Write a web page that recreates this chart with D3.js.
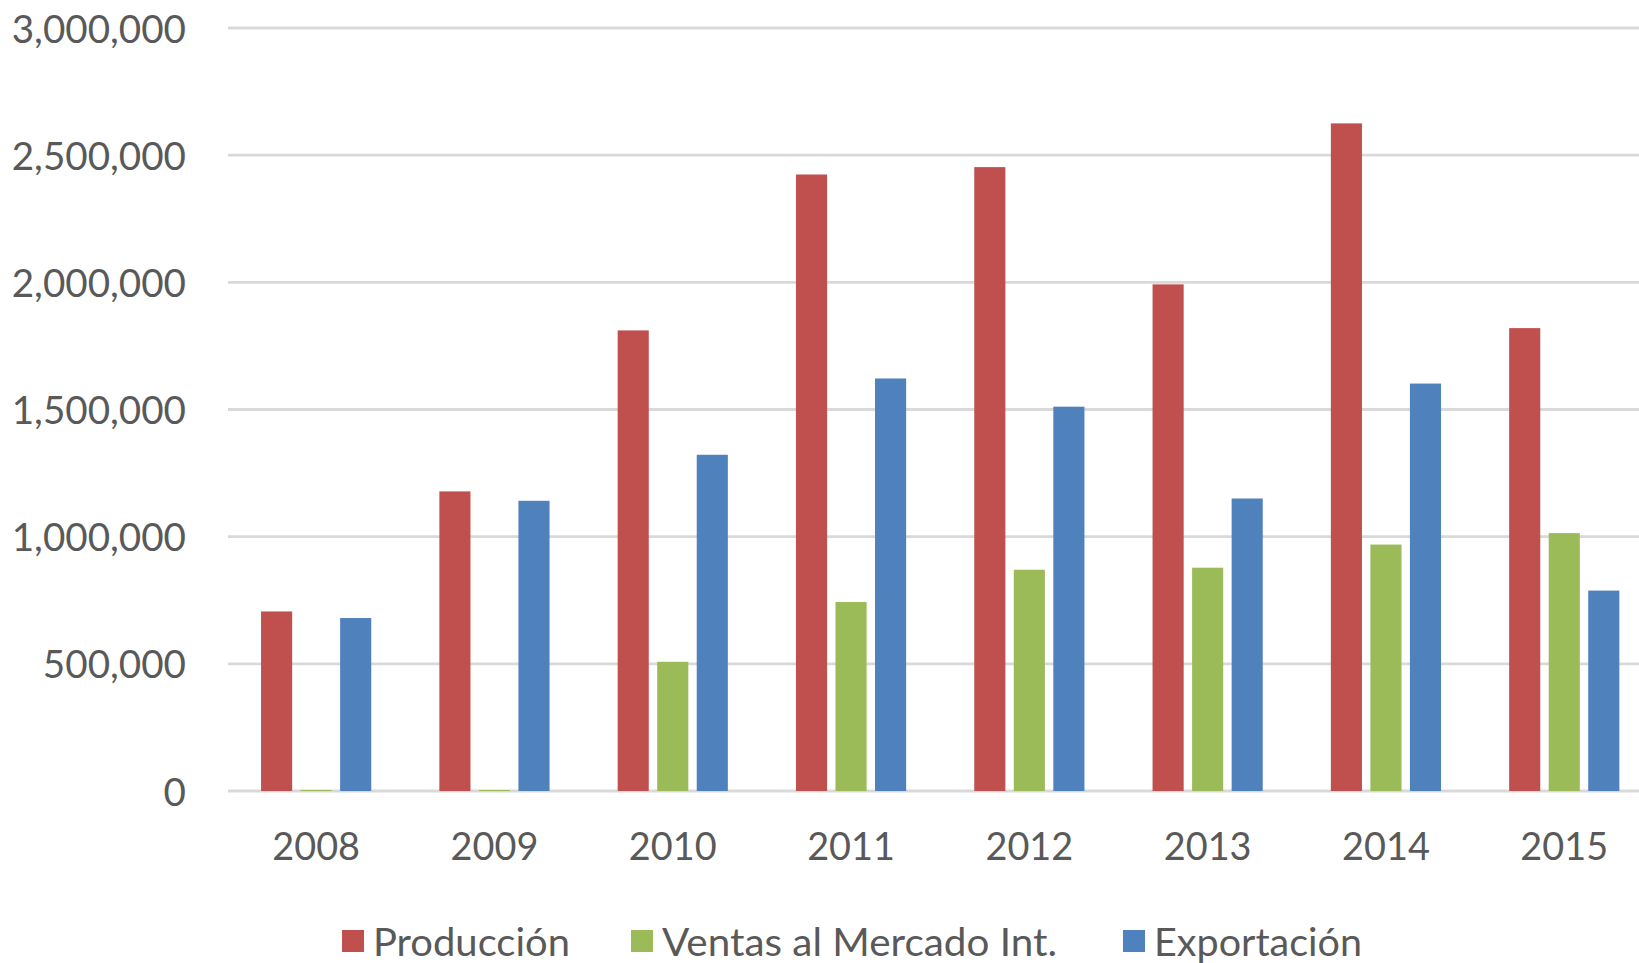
<!DOCTYPE html>
<html>
<head>
<meta charset="utf-8">
<script src="https://cdn.jsdelivr.net/npm/d3@7"></script>
<style>
  html, body { margin: 0; padding: 0; background: #fff; }
  svg { display: block; }
  text { font-family: Lato, "Open Sans", sans-serif; fill: #595959; }
</style>
</head>
<body>
<svg id="chart" width="1639" height="963"></svg>
<script>
const years = ["2008", "2009", "2010", "2011", "2012", "2013", "2014", "2015"];
const seriesNames = ["Producción", "Ventas al Mercado Int.", "Exportación"];
const seriesColors = ["#C0504D", "#9BBB59", "#4F81BD"];
const produccion = [706000, 1178000, 1811000, 2424000, 2453000, 1992000, 2625000, 1820000];
const ventas = [4000, 4000, 508000, 743000, 870000, 878000, 969000, 1014000];
const exportacion = [680000, 1141000, 1322000, 1622000, 1511000, 1150000, 1602000, 788000];
const yTicks = [0, 500000, 1000000, 1500000, 2000000, 2500000, 3000000];

const seriesValues = [produccion, ventas, exportacion];

const svg = d3.select("#chart");
const W = 1639;
const left = 227, step = 178.3;
const x0 = d3.scaleBand().domain(years)
  .range([left, left + step * years.length])
  .paddingInner(0.382).paddingOuter(0.191);
const x1 = d3.scaleBand().domain(seriesNames)
  .range([0, x0.bandwidth()])
  .paddingInner(0.213).paddingOuter(0);
const y = d3.scaleLinear().domain([0, 3000000]).range([791, 28]);

// gridlines
svg.append("g").selectAll("line").data(yTicks).join("line")
  .attr("x1", 228).attr("x2", W)
  .attr("y1", d => y(d)).attr("y2", d => y(d))
  .attr("stroke", "#D9D9D9").attr("stroke-width", 2.8);

// y axis labels
const yAxis = svg.append("g").attr("transform", "translate(228,0)")
  .call(d3.axisLeft(y).tickValues(yTicks).tickFormat(d3.format(",")).tickSize(0).tickPadding(42));
yAxis.select(".domain").remove();
yAxis.selectAll("text")
  .attr("font-size", 39).attr("font-family", "Lato, 'Open Sans', sans-serif")
  .attr("fill", "#595959").attr("dy", "0.36em");

// bars
const groups = svg.append("g").selectAll("g").data(years).join("g")
  .attr("transform", d => `translate(${x0(d)},0)`);
groups.selectAll("rect")
  .data((yr, i) => seriesNames.map((s, k) => ({ s, k, v: seriesValues[k][i] })))
  .join("rect")
  .attr("x", d => x1(d.s))
  .attr("width", x1.bandwidth())
  .attr("y", d => y(d.v))
  .attr("height", d => y(0) - y(d.v))
  .attr("fill", d => seriesColors[d.k]);

// x axis labels
const xAxis = svg.append("g").attr("transform", "translate(0,791)")
  .call(d3.axisBottom(x0).tickSize(0).tickPadding(0));
xAxis.select(".domain").remove();
xAxis.selectAll("text")
  .attr("font-size", 39).attr("font-family", "Lato, 'Open Sans', sans-serif")
  .attr("fill", "#595959").attr("dy", null).attr("y", 69);

// legend
const legendX = [342, 631, 1123];
const legendW = [197, 395, 208];
const lg = svg.append("g").selectAll("g").data(seriesNames).join("g")
  .attr("transform", (d, i) => `translate(${legendX[i]},0)`);
lg.append("rect").attr("x", 0).attr("y", 930).attr("width", 22).attr("height", 22)
  .attr("fill", (d, i) => seriesColors[i]);
lg.append("text").attr("x", 31).attr("y", 956).attr("font-size", 39)
  .attr("textLength", (d, i) => legendW[i]).attr("lengthAdjust", "spacingAndGlyphs")
  .text(d => d);

// adjust tick label widths to approximate the reference
function squeeze(sel, k) {
  sel.each(function () {
    const w = this.getComputedTextLength();
    d3.select(this).attr("textLength", w * k).attr("lengthAdjust", "spacingAndGlyphs");
  });
}
squeeze(yAxis.selectAll("text"), 0.99);
squeeze(xAxis.selectAll("text"), 0.97);
</script>
</body>
</html>
